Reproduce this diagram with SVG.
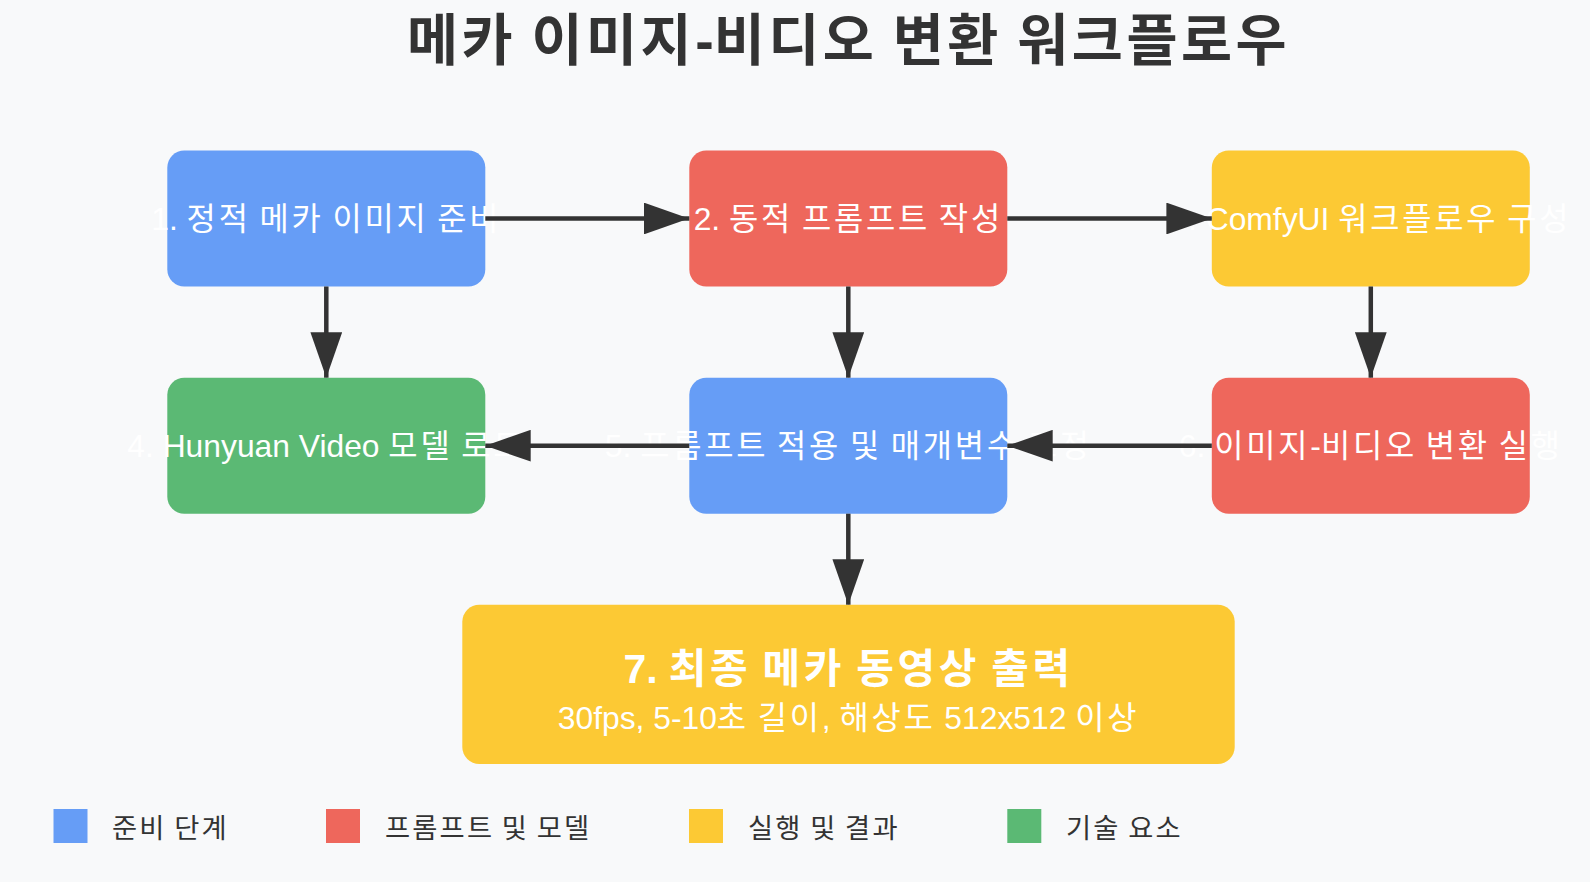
<svg xmlns="http://www.w3.org/2000/svg" width="1590" height="882" viewBox="0 0 1590 882">
  <defs>
    <marker id="arrow" markerUnits="userSpaceOnUse" markerWidth="45.4" markerHeight="31.8" viewBox="0 0 10 7" refX="10" refY="3.5" orient="auto">
      <polygon points="0 0, 10 3.5, 0 7" fill="#333333"/>
    </marker>
    <style>
      .title { font-family: "Liberation Sans", "Noto Sans CJK KR", sans-serif; font-size: 55.5px; font-weight: bold; fill: #333333; text-anchor: middle; }
      .title .k { letter-spacing: 3.5px; }
      .label { font-family: "Liberation Sans", "Noto Sans CJK KR", sans-serif; font-size: 31.8px; fill: #ffffff; text-anchor: middle; }
      .big { font-family: "Liberation Sans", "Noto Sans CJK KR", sans-serif; font-size: 40.9px; font-weight: bold; fill: #ffffff; text-anchor: middle; }
      .legend { font-family: "Liberation Sans", "Noto Sans CJK KR", sans-serif; font-size: 27.3px; fill: #333333; }
      .k { letter-spacing: 0.087em; }
      .legend .k { letter-spacing: 0.08em; }
      .blue { fill: #669DF6; }
      .red { fill: #EE675C; }
      .yellow { fill: #FCC934; }
      .green { fill: #5BB974; }
      .conn { stroke: #333333; stroke-width: 4.5; fill: none; marker-end: url(#arrow); }
    </style>
  </defs>

  <rect x="0" y="0" width="1590" height="882" fill="#F8F9FA"/>

  <text class="title" x="848.5" y="59.5"><tspan class="k">메카</tspan> <tspan class="k">이미지</tspan>-<tspan class="k">비디오</tspan> <tspan class="k">변환</tspan> <tspan class="k">워크플로우</tspan></text>

  <g id="node1">
    <rect class="blue" x="167.3" y="150.5" width="318" height="136" rx="17"/>
    <text class="label" x="326.3" y="229.6">1. <tspan class="k">정적</tspan> <tspan class="k">메카</tspan> <tspan class="k">이미지</tspan> <tspan class="k">준비</tspan></text>
  </g>
  <g id="node2">
    <rect class="red" x="689.3" y="150.5" width="318" height="136" rx="17"/>
    <text class="label" x="848.3" y="229.6">2. <tspan class="k">동적</tspan> <tspan class="k">프롬프트</tspan> <tspan class="k">작성</tspan></text>
  </g>
  <g id="node3">
    <rect class="yellow" x="1211.8" y="150.5" width="318" height="136" rx="17"/>
    <text class="label" x="1370.8" y="229.6">3. ComfyUI <tspan class="k">워크플로우</tspan> <tspan class="k">구성</tspan></text>
  </g>
  <g id="node4">
    <rect class="green" x="167.3" y="377.7" width="318" height="136" rx="17"/>
    <text class="label" x="326.3" y="456.8">4. Hunyuan Video <tspan class="k">모델</tspan> <tspan class="k">로드</tspan></text>
  </g>
  <g id="node5">
    <rect class="blue" x="689.3" y="377.7" width="318" height="136" rx="17"/>
    <text class="label" x="848.3" y="456.8">5. <tspan class="k">프롬프트</tspan> <tspan class="k">적용</tspan> <tspan class="k">및</tspan> <tspan class="k">매개변수</tspan> <tspan class="k">조정</tspan></text>
  </g>
  <g id="node6">
    <rect class="red" x="1211.8" y="377.7" width="318" height="136" rx="17"/>
    <text class="label" x="1370.8" y="456.8">6. <tspan class="k">이미지</tspan>-<tspan class="k">비디오</tspan> <tspan class="k">변환</tspan> <tspan class="k">실행</tspan></text>
  </g>
  <g id="node7">
    <rect class="yellow" x="462.3" y="604.7" width="772.4" height="159.3" rx="17"/>
    <text class="big" x="848.5" y="683.3">7. <tspan class="k">최종</tspan> <tspan class="k">메카</tspan> <tspan class="k">동영상</tspan> <tspan class="k">출력</tspan></text>
    <text class="label" x="848.5" y="729">30fps, 5-10<tspan class="k">초</tspan> <tspan class="k">길이</tspan>, <tspan class="k">해상도</tspan> 512x512 <tspan class="k">이상</tspan></text>
  </g>

  <g id="connectors">
    <line class="conn" x1="485.3" y1="218.5" x2="689.3" y2="218.5"/>
    <line class="conn" x1="1007.3" y1="218.5" x2="1211.8" y2="218.5"/>
    <line class="conn" x1="326.3" y1="286.5" x2="326.3" y2="377.7"/>
    <line class="conn" x1="848.3" y1="286.5" x2="848.3" y2="377.7"/>
    <line class="conn" x1="1370.8" y1="286.5" x2="1370.8" y2="377.7"/>
    <line class="conn" x1="1211.8" y1="445.7" x2="1007.3" y2="445.7"/>
    <line class="conn" x1="689.3" y1="445.7" x2="485.3" y2="445.7"/>
    <line class="conn" x1="848.3" y1="513.7" x2="848.3" y2="604.7"/>
  </g>

  <g id="legend">
    <rect class="blue" x="53.5" y="809" width="34" height="34"/>
    <text class="legend" x="112" y="837.5"><tspan class="k">준비</tspan> <tspan class="k">단계</tspan></text>
    <rect class="red" x="326" y="809" width="34" height="34"/>
    <text class="legend" x="385" y="837.5"><tspan class="k">프롬프트</tspan> <tspan class="k">및</tspan> <tspan class="k">모델</tspan></text>
    <rect class="yellow" x="689" y="809" width="34" height="34"/>
    <text class="legend" x="748" y="837.5"><tspan class="k">실행</tspan> <tspan class="k">및</tspan> <tspan class="k">결과</tspan></text>
    <rect class="green" x="1007.3" y="809" width="34" height="34"/>
    <text class="legend" x="1066" y="837.5"><tspan class="k">기술</tspan> <tspan class="k">요소</tspan></text>
  </g>
</svg>
